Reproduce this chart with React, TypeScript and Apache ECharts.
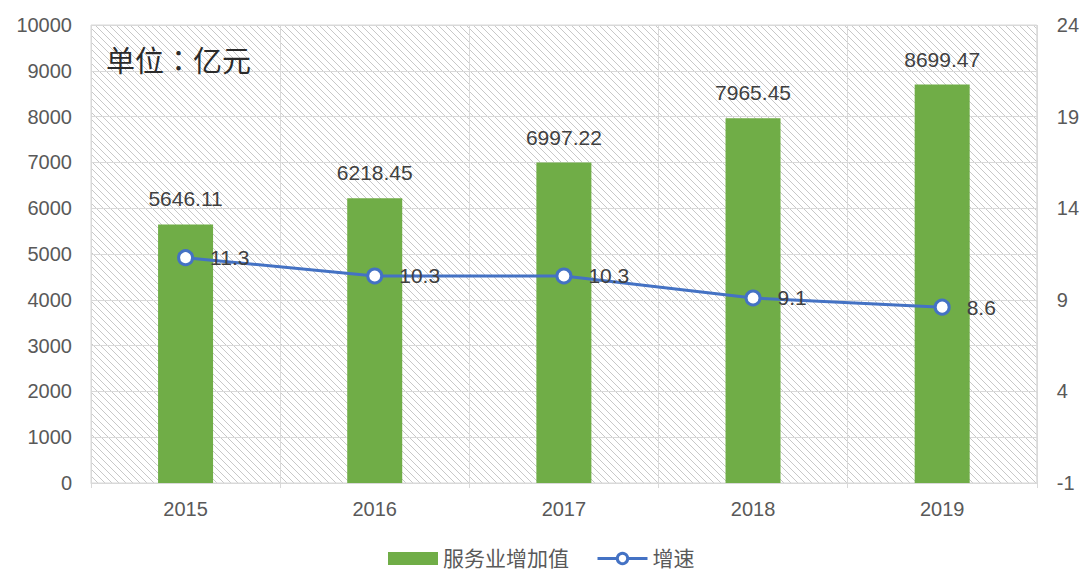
import React, { useEffect, useRef } from "react";
import * as echarts from "echarts";

const years = ["2015", "2016", "2017", "2018", "2019"];
const serviceValue = [5646.11, 6218.45, 6997.22, 7965.45, 8699.47];
const growthRate = [11.3, 10.3, 10.3, 9.1, 8.6];
const seriesNames = ["服务业增加值", "增速"];
const unitText = "单位：亿元";

const FONT = '"Liberation Sans", "Noto Sans CJK SC", sans-serif';
const TITLE_FONT = '"Noto Sans CJK TC", "Noto Sans CJK SC", sans-serif';

function hatchUrl(): string {
  const s = 7;
  const svg = `<svg xmlns="http://www.w3.org/2000/svg" width="${s}" height="${s}"><rect width="${s}" height="${s}" fill="#ffffff"/><path d="M0,0 L${s},${s} M-1,${s - 1} L1,${s + 1} M${s - 1},-1 L${s + 1},1" stroke="#c8c8c8" stroke-width="1"/></svg>`;
  return "data:image/svg+xml;charset=utf-8," + encodeURIComponent(svg);
}

export default function App() {
  const ref = useRef<HTMLDivElement>(null);
  useEffect(() => {
    document.body.style.margin = "0";
    if (!ref.current) return;
    const chart = echarts.init(ref.current, undefined, { renderer: "svg" });
    chart.setOption({
      animation: false,
      backgroundColor: "#ffffff",
      textStyle: { fontFamily: FONT },
      title: {
        text: unitText,
        left: 106,
        top: 44,
        padding: 0,
        textStyle: { fontSize: 29, fontWeight: "normal", color: "#2b2b2b", fontFamily: TITLE_FONT },
      },
      grid: {
        left: 91,
        right: 45,
        top: 25,
        bottom: 88,
        show: true,
        backgroundColor: { image: hatchUrl(), repeat: "repeat" } as any,
        borderColor: "#d9d9d9",
        borderWidth: 1,
      },
      legend: {
        left: 383,
        top: 543,
        itemWidth: 50,
        itemHeight: 13,
        itemGap: 27,
        textStyle: { fontSize: 21, color: "#595959", fontFamily: FONT },
        data: [
          { name: seriesNames[0], icon: "rect" },
          {
            name: seriesNames[1],
            lineStyle: { width: 3, color: "#4472C4" },
            itemStyle: { color: "#ffffff", borderColor: "#4472C4", borderWidth: 3 },
          },
        ],
      },
      xAxis: {
        type: "category",
        data: years,
        axisLine: { lineStyle: { color: "#d9d9d9", width: 1 } },
        axisTick: { show: true, length: 5, lineStyle: { color: "#d9d9d9" } },
        splitLine: { show: true, lineStyle: { color: "#d9d9d9", width: 1 } },
        axisLabel: { fontSize: 20, color: "#595959", margin: 16, fontFamily: FONT },
      },
      yAxis: [
        {
          type: "value",
          min: 0,
          max: 10000,
          interval: 1000,
          axisLine: { show: false },
          axisTick: { show: false },
          splitLine: { show: true, lineStyle: { color: "#d9d9d9", width: 1 } },
          axisLabel: {
            fontSize: 20,
            color: "#595959",
            margin: 19,
            fontFamily: FONT,
            formatter: (v: number) => String(v),
          },
        },
        {
          type: "value",
          min: -1,
          max: 24,
          interval: 5,
          axisLine: { show: false },
          axisTick: { show: false },
          splitLine: { show: false },
          axisLabel: { fontSize: 20, color: "#595959", margin: 20, fontFamily: FONT },
        },
      ],
      series: [
        {
          name: seriesNames[0],
          type: "bar",
          data: serviceValue,
          barWidth: 55,
          itemStyle: { color: "#70AD47" },
          label: {
            show: true,
            position: "top",
            distance: 15,
            fontSize: 21,
            color: "#404040",
            fontFamily: FONT,
            formatter: (p: any) => p.value.toFixed(2),
          },
        },
        {
          name: seriesNames[1],
          type: "line",
          yAxisIndex: 1,
          data: growthRate,
          symbol: "circle",
          symbolSize: 14,
          lineStyle: { color: "#4472C4", width: 3 },
          itemStyle: { color: "#ffffff", borderColor: "#4472C4", borderWidth: 3 },
          label: {
            show: true,
            position: "right",
            distance: 16,
            fontSize: 21,
            color: "#404040",
            fontFamily: FONT,
          },
          z: 5,
        },
      ],
    });
    return () => chart.dispose();
  }, []);
  return <div ref={ref} style={{ width: 1082, height: 571 }} />;
}
